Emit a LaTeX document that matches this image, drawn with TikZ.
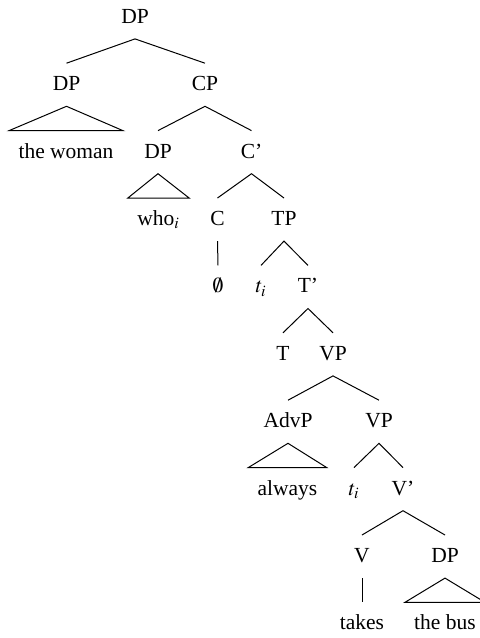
\documentclass[tikz,border=0pt]{standalone}
\usepackage{mathptmx}
\usepackage{fontspec}
\setmainfont{Liberation Serif}
\usepackage{tikz}

\begin{document}
\begin{tikzpicture}[x=0.5pt, y=-0.5pt,
        font=\fontsize{10.75}{13}\selectfont,
        cat/.style={anchor=base, inner xsep=4.5pt, inner ysep=0pt,
                    text height=13.55pt, text depth=7.6pt},
        branch/.style={draw=black, line width=0.5pt},
        roof/.style={draw=black, line width=0.5pt, line join=miter}]
      \useasboundingbox (0,0) rectangle (480,638);
      \node[cat] (root) at (135,23.3) {DP};
      \node[cat] (dpA) at (66.5,90.7) {DP};
      \node[cat] (cp) at (205,90.7) {CP};
      \node[cat] (woman) at (66,158.1) {the woman};
      \node[cat] (dpB) at (158,158.1) {DP};
      \node[cat] (cbar) at (251.5,158.1) {C'};
      \node[cat] (who) at (158.5,225.5) {who$_i$};
      \node[cat] (c) at (217.5,225.5) {C};
      \node[cat] (tp) at (284,225.5) {TP};
      \node[cat] (empty) at (218,292.9) {$\emptyset$};
      \node[cat] (tiA) at (261,292.9) {$t_i$};
      \node[cat] (tbar) at (308,292.9) {T'};
      \node[cat] (t) at (283,360.3) {T};
      \node[cat] (vpA) at (333,360.3) {VP};
      \node[cat] (advp) at (288,427.7) {AdvP};
      \node[cat] (vpB) at (379,427.7) {VP};
      \node[cat] (always) at (287.5,495.1) {always};
      \node[cat] (tiB) at (354,495.1) {$t_i$};
      \node[cat] (vbar) at (403,495.1) {V'};
      \node[cat] (v) at (362,562.5) {V};
      \node[cat] (dpC) at (445,562.5) {DP};
      \node[cat] (takes) at (362,629.9) {takes};
      \node[cat] (bus) at (445,629.9) {the bus};

      \draw[branch] (dpA.north) -- (root.south) -- (cp.north);
      \draw[branch] (dpB.north) -- (cp.south) -- (cbar.north);
      \draw[branch] (c.north) -- (cbar.south) -- (tp.north);
      \draw[branch] (c.south) -- (empty.north);
      \draw[branch] (tiA.north) -- (tp.south) -- (tbar.north);
      \draw[branch] (t.north) -- (tbar.south) -- (vpA.north);
      \draw[branch] (advp.north) -- (vpA.south) -- (vpB.north);
      \draw[branch] (tiB.north) -- (vpB.south) -- (vbar.north);
      \draw[branch] (v.north) -- (vbar.south) -- (dpC.north);
      \draw[branch] (v.south) -- (takes.north);

      \draw[roof] (dpA.south) -- (woman.north west) -- (woman.north east) -- cycle;
      \draw[roof] (dpB.south) -- (who.north west) -- (who.north east) -- cycle;
      \draw[roof] (advp.south) -- (always.north west) -- (always.north east) -- cycle;
      \draw[roof] (dpC.south) -- (bus.north west) -- (bus.north east) -- cycle;
    \end{tikzpicture}
\end{document}
